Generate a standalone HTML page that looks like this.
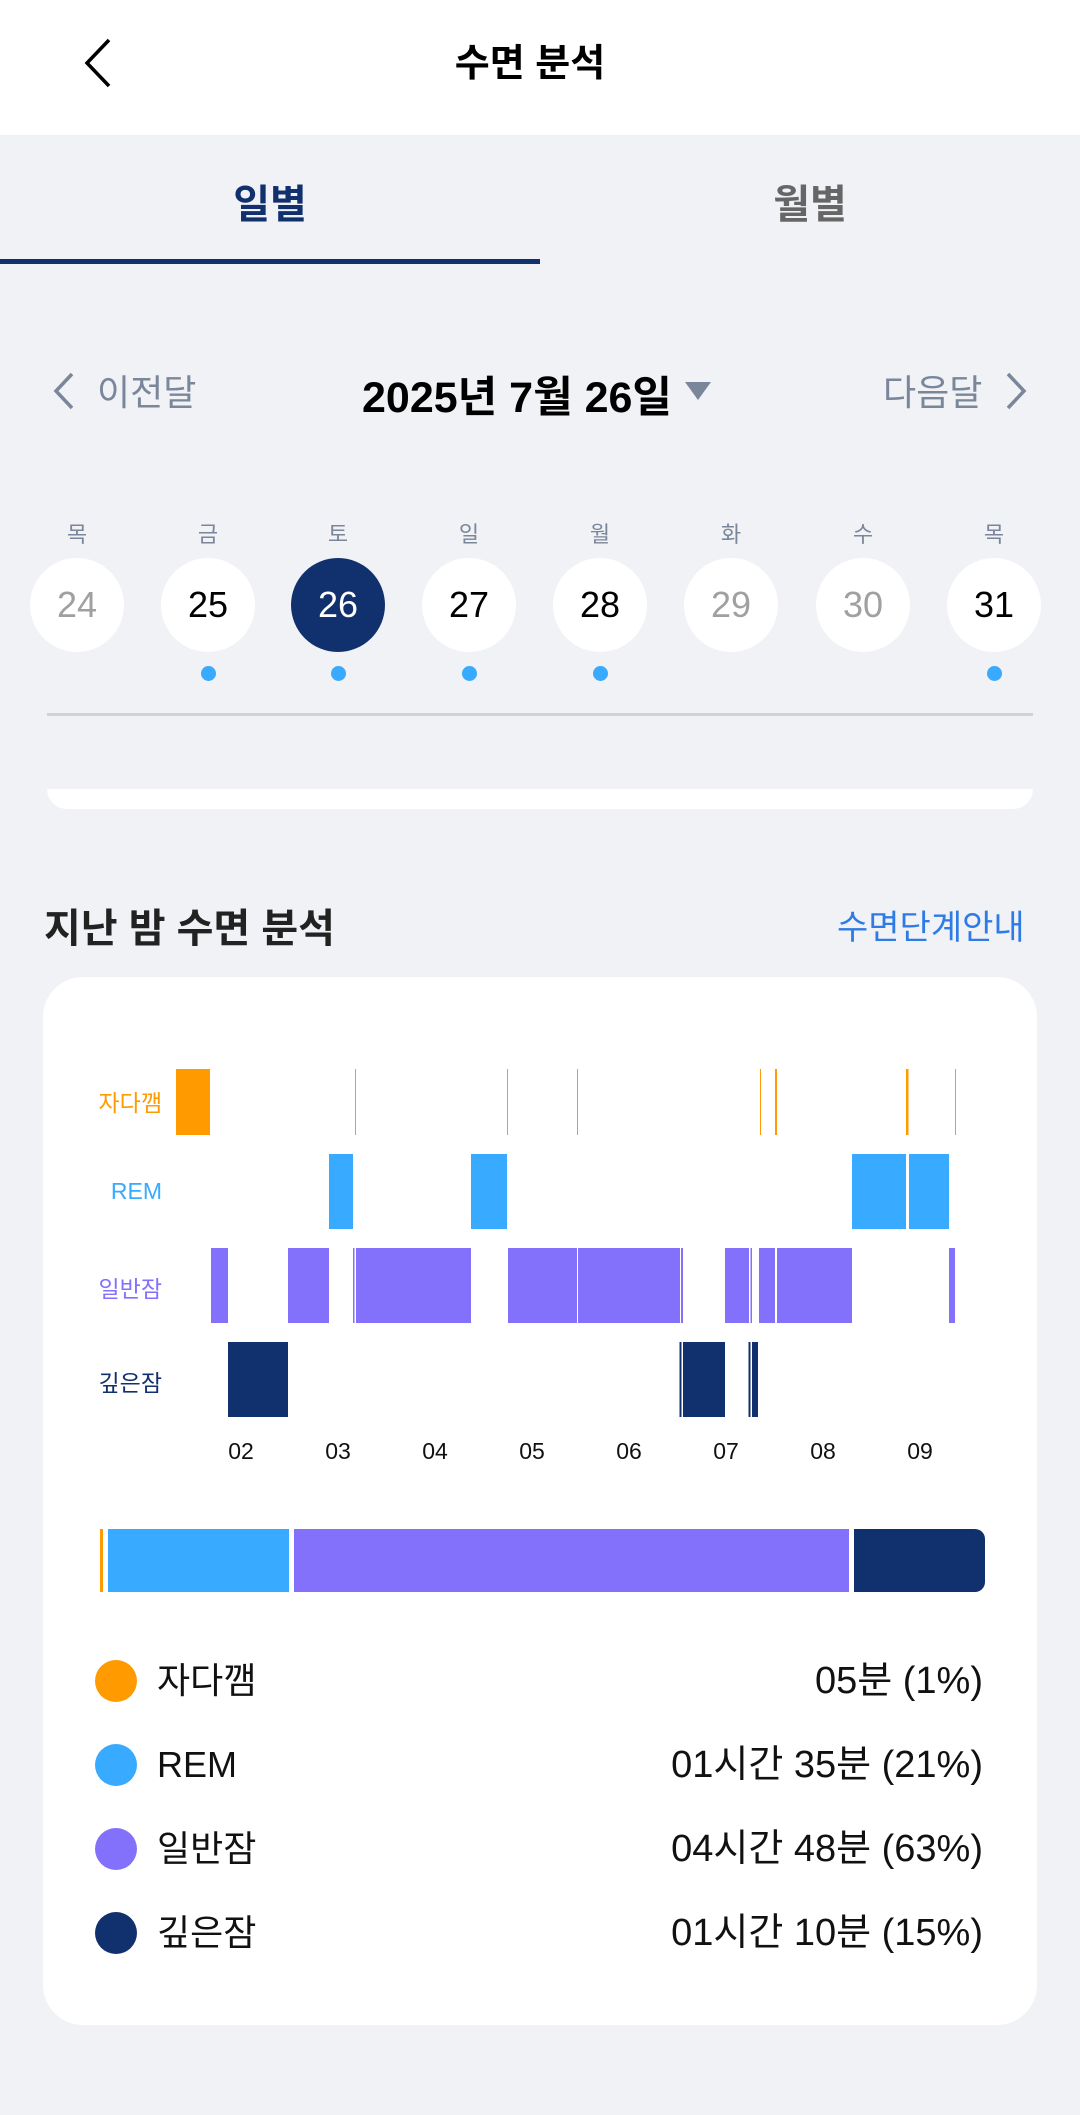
<!DOCTYPE html>
<html><head><meta charset="utf-8">
<style>
*{margin:0;padding:0;box-sizing:border-box}
body{width:1080px;height:2115px;background:#f0f2f6;position:relative;overflow:hidden;font-family:"Liberation Sans","Noto Sans CJK KR",sans-serif}
.a{position:absolute;white-space:nowrap}
.c{transform:translateX(-50%)}
.circ{position:absolute;width:94px;height:94px;border-radius:50%;background:#fff;top:558px;margin-left:-47px;text-align:center;line-height:94px;font-size:36px;color:#000}
.wd{position:absolute;top:517px;font-size:22px;color:#7a869a;transform:translateX(-50%)}
.dot{position:absolute;width:15px;height:15px;border-radius:50%;background:#38aaff;top:666px;margin-left:-7px}
.lg{position:absolute;left:95px;width:42px;height:42px;border-radius:50%}
.lt{position:absolute;left:157px;font-size:36px;color:#111;height:42px;line-height:42px}
.lv{position:absolute;right:97px;font-size:38px;color:#111;height:42px;line-height:42px}
.rl{position:absolute;font-size:23px;right:918px}
.tk{position:absolute;top:1438px;font-size:23px;color:#111;transform:translateX(-50%)}
</style></head><body>
<div class="a" style="left:0;top:0;width:1080px;height:135px;background:#fff"></div>
<svg class="a" style="left:80px;top:35px" width="36" height="56"><polyline points="29,5 7,28 29,51" fill="none" stroke="#000" stroke-width="3.5"/></svg>
<div class="a c" style="left:530px;top:32px;font-size:38px;font-weight:bold;color:#000">수면 분석</div>
<div class="a c" style="left:270px;top:172px;font-size:40px;font-weight:bold;color:#11306e">일별</div>
<div class="a c" style="left:810px;top:172px;font-size:40px;font-weight:bold;color:#666">월별</div>
<div class="a" style="left:0;top:259px;width:540px;height:5px;background:#11306e"></div>

<svg class="a" style="left:50px;top:370px" width="28" height="42"><polyline points="22,4 6,21 22,38" fill="none" stroke="#7a869a" stroke-width="3.5"/></svg>
<div class="a" style="left:97px;top:364px;font-size:36px;color:#7a869a">이전달</div>
<div class="a" style="left:362px;top:363px;font-size:43px;font-weight:bold;color:#000">2025년 7월 26일</div>
<svg class="a" style="left:685px;top:382px" width="26" height="20"><polygon points="0,0 26,0 13,18" fill="#7a869a"/></svg>
<div class="a" style="left:883px;top:364px;font-size:36px;color:#7a869a">다음달</div>
<svg class="a" style="left:1002px;top:370px" width="28" height="42"><polyline points="6,4 22,21 6,38" fill="none" stroke="#7a869a" stroke-width="3.5"/></svg>

<div class="wd" style="left:77px">목</div><div class="wd" style="left:208px">금</div><div class="wd" style="left:338px">토</div><div class="wd" style="left:469px">일</div><div class="wd" style="left:600px">월</div><div class="wd" style="left:731px">화</div><div class="wd" style="left:863px">수</div><div class="wd" style="left:994px">목</div>
<div class="circ" style="left:77px;color:#a0a0a0">24</div>
<div class="circ" style="left:208px">25</div>
<div class="circ" style="left:338px;background:#11306e;color:#fff">26</div>
<div class="circ" style="left:469px">27</div>
<div class="circ" style="left:600px">28</div>
<div class="circ" style="left:731px;color:#a0a0a0">29</div>
<div class="circ" style="left:863px;color:#a0a0a0">30</div>
<div class="circ" style="left:994px">31</div>
<div class="dot" style="left:208px"></div><div class="dot" style="left:338px"></div><div class="dot" style="left:469px"></div><div class="dot" style="left:600px"></div><div class="dot" style="left:994px"></div>
<div class="a" style="left:47px;top:713px;width:986px;height:3px;background:#d0d2d6"></div>
<div class="a" style="left:47px;top:789px;width:986px;height:20px;background:#fff;border-radius:0 0 30px 30px"></div>

<div class="a" style="left:44px;top:896px;font-size:40px;font-weight:bold;color:#222">지난 밤 수면 분석</div>
<div class="a" style="left:837px;top:900px;font-size:34px;color:#2f7be5">수면단계안내</div>

<div class="a" style="left:43px;top:977px;width:994px;height:1048px;background:#fff;border-radius:40px"></div>

<div class="rl" style="top:1084px;color:#ff9a00">자다깸</div>
<div class="rl" style="top:1178px;color:#38aaff">REM</div>
<div class="rl" style="top:1270px;color:#8371fc">일반잠</div>
<div class="rl" style="top:1364px;color:#11306e">깊은잠</div>

<svg class="a" style="left:0;top:0" width="1080" height="1500">
<g fill="#ff9a00">
<rect x="176" y="1069" width="34" height="66"/>
<rect x="355" y="1069" width="1" height="66"/><rect x="507" y="1069" width="1" height="66"/><rect x="577" y="1069" width="1" height="66"/><rect x="760" y="1069" width="1" height="66"/><rect x="775" y="1069" width="2" height="66"/><rect x="906" y="1069" width="2.5" height="66"/><rect x="955" y="1069" width="1" height="66"/>
</g>
<g fill="#38aaff">
<rect x="329" y="1154" width="24" height="75"/><rect x="471" y="1154" width="36" height="75"/><rect x="852" y="1154" width="54" height="75"/><rect x="909" y="1154" width="40" height="75"/>
</g>
<g fill="#8371fc">
<rect x="211" y="1248" width="17" height="75"/><rect x="288" y="1248" width="41" height="75"/><rect x="353" y="1248" width="1.5" height="75"/><rect x="356" y="1248" width="115" height="75"/><rect x="508" y="1248" width="69" height="75"/><rect x="578" y="1248" width="102" height="75"/><rect x="681" y="1248" width="2" height="75"/><rect x="725" y="1248" width="24" height="75"/><rect x="750.5" y="1248" width="1.5" height="75"/><rect x="759" y="1248" width="16" height="75"/><rect x="777" y="1248" width="75" height="75"/><rect x="949" y="1248" width="6" height="75"/>
</g>
<g fill="#11306e">
<rect x="228" y="1342" width="60" height="75"/><rect x="679.5" y="1342" width="2" height="75"/><rect x="683" y="1342" width="42" height="75"/><rect x="748.5" y="1342" width="2" height="75"/><rect x="752" y="1342" width="6" height="75"/>
</g>
</svg>
<div class="tk" style="left:241px">02</div><div class="tk" style="left:338px">03</div><div class="tk" style="left:435px">04</div><div class="tk" style="left:532px">05</div><div class="tk" style="left:629px">06</div><div class="tk" style="left:726px">07</div><div class="tk" style="left:823px">08</div><div class="tk" style="left:920px">09</div>

<div class="a" style="left:100px;top:1529px;width:3px;height:63px;background:#ff9a00"></div>
<div class="a" style="left:108px;top:1529px;width:181px;height:63px;background:#38aaff"></div>
<div class="a" style="left:294px;top:1529px;width:555px;height:63px;background:#8371fc"></div>
<div class="a" style="left:854px;top:1529px;width:131px;height:63px;background:#11306e;border-radius:0 10px 10px 0"></div>

<div class="lg" style="top:1660px;background:#ff9a00"></div><div class="lt" style="top:1660px">자다깸</div><div class="lv" style="top:1660px">05분 (1%)</div>
<div class="lg" style="top:1744px;background:#38aaff"></div><div class="lt" style="top:1744px">REM</div><div class="lv" style="top:1744px">01시간 35분 (21%)</div>
<div class="lg" style="top:1828px;background:#8371fc"></div><div class="lt" style="top:1828px">일반잠</div><div class="lv" style="top:1828px">04시간 48분 (63%)</div>
<div class="lg" style="top:1912px;background:#11306e"></div><div class="lt" style="top:1912px">깊은잠</div><div class="lv" style="top:1912px">01시간 10분 (15%)</div>
</body></html>
